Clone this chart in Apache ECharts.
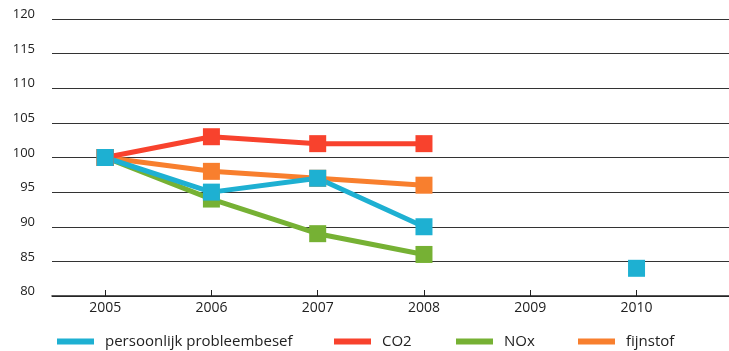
<!DOCTYPE html>
<html>
<head>
<meta charset="utf-8">
<script src="https://cdn.jsdelivr.net/npm/echarts@6/dist/echarts.min.js"></script>
<style>
  html, body { margin: 0; padding: 0; background: #fff; }
  #chart { width: 729px; height: 351px; }
</style>
</head>
<body>
<div id="chart"></div>
<script>
// Years on the horizontal axis
const years = [2005, 2006, 2007, 2008, 2009, 2010];
// Index values per indicator (2005 = 100); null where no measurement
const probleembesef = [100, 95, 97, 90, null, 84];
const co2 = [100, 103, 102, 102, null, null];
const nox = [100, 94, 89, 86, null, null];
const fijnstof = [100, 98, 97, 96, null, null];
// Vertical axis tick labels
const yTicks = [80, 85, 90, 95, 100, 105, 110, 115, 120];

const names = ['persoonlijk probleembesef', 'CO2', 'NOx', 'fijnstof'];
const colors = {
  'persoonlijk probleembesef': '#1eb0d2',
  'CO2': '#f8422d',
  'NOx': '#76b134',
  'fijnstof': '#f87f2e'
};
const values = {
  'persoonlijk probleembesef': probleembesef,
  'CO2': co2,
  'NOx': nox,
  'fijnstof': fijnstof
};

const font = '"Open Sans", "Noto Sans", sans-serif';

function pairs(arr) {
  return years.map((y, i) => [y, arr[i]]);
}

// Draw order: blue series last so its markers sit on top
const drawOrder = ['NOx', 'fijnstof', 'CO2', 'persoonlijk probleembesef'];
const series = drawOrder.map(n => ({
  name: n,
  type: 'line',
  data: pairs(values[n]),
  connectNulls: false,
  symbol: 'rect',
  symbolSize: 17,
  showAllSymbol: true,
  lineStyle: { width: 5, color: colors[n] },
  itemStyle: { color: colors[n] },
  emphasis: { disabled: true },
  animation: false
}));

const legendLefts = [52, 329, 451, 573];
const legends = names.map((n, i) => ({
  data: [{ name: n, icon: 'rect' }],
  left: legendLefts[i],
  top: 329,
  itemWidth: 37,
  itemHeight: 6,
  selectedMode: false,
  textStyle: { fontFamily: font, fontSize: 15, color: '#222', padding: [0, 0, 0, 6] }
}));

const chart = echarts.init(document.getElementById('chart'), null, { renderer: 'canvas' });
chart.setOption({
  backgroundColor: '#fff',
  animation: false,
  grid: { left: 52, right: 0, top: 19, bottom: 55, containLabel: false },
  legend: legends,
  xAxis: {
    type: 'value',
    min: 2004.5,
    max: 2010.87,
    splitLine: { show: false },
    axisLine: { show: true, lineStyle: { color: '#222', width: 1.5 } },
    axisTick: {
      show: true, inside: true, length: 6,
      customValues: years,
      lineStyle: { color: '#222', width: 1 }
    },
    axisLabel: {
      customValues: years,
      fontFamily: font, fontSize: 14, color: '#222', margin: 5,
      formatter: v => String(v)
    }
  },
  yAxis: {
    type: 'value',
    min: yTicks[0],
    max: yTicks[yTicks.length - 1],
    interval: 5,
    axisLine: { show: false },
    axisTick: { show: false },
    splitLine: { show: true, lineStyle: { color: '#333', width: 1.2 } },
    axisLabel: {
      fontFamily: font, fontSize: 13, color: '#222', margin: 17,
      verticalAlign: 'bottom', lineHeight: 9
    }
  },
  series: series
});
</script>
</body>
</html>
